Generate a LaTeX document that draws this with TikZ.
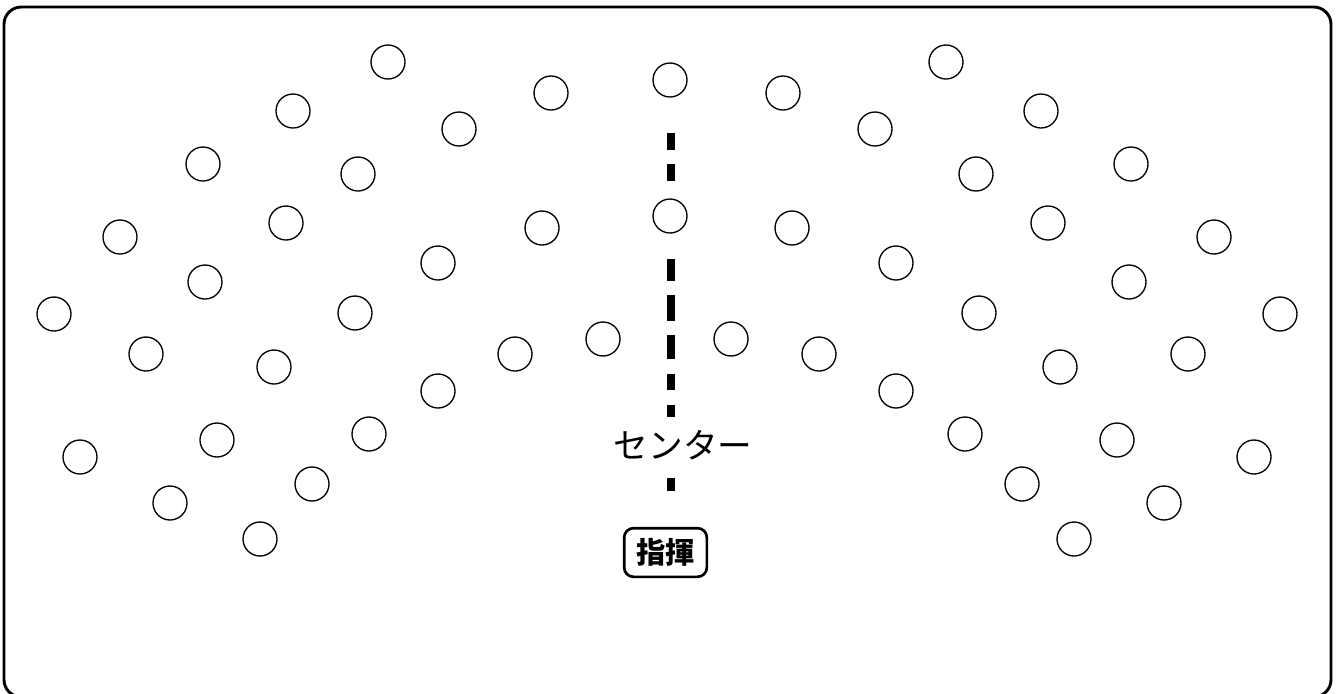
\documentclass[tikz,border=0pt]{standalone}
\usepackage{fontspec}
\newfontfamily\jpfont{Noto Sans CJK JP}

\begin{document}
\begin{tikzpicture}[x=0.75pt,y=-0.75pt,
  seat/.style={circle,draw,line width=1pt,minimum size=25.5pt,inner sep=0pt},
  centerdash/.style={line width=6pt},
  conductor/.style={draw,line width=2pt,rounded corners=7pt,minimum width=62pt,minimum height=36.5pt,inner sep=0pt,font=\jpfont\bfseries\fontsize{22pt}{22pt}\selectfont}]
  \useasboundingbox (0,0) rectangle (1338,693);
  \clip (0,0) rectangle (1338,693);
  \fill[white] (0,0) rectangle (1338,693);
  \draw[line width=2.2pt,rounded corners=13pt] (4,7) rectangle (1331,697);
  \foreach \a/\b in {133/150,164/181,259/281,295/321,335/359,374/390,405/417,478/491}
    \draw[centerdash] (671,\a) -- (671,\b);
  \node[seat,fill=white] (c1) at (670,80) {};
  \node[seat,fill=white] (c2) at (670,216) {};
  \foreach \x/\y [count=\i] in {388/62,293/111,551/93,459/129,203/164,358/174,
      120/237,286/223,542/228,438/263,205/282,54/314,355/313,146/354,274/367,
      515/354,603/339,438/391,80/457,217/440,369/434,170/503,312/484,260/539}
  {
    \node[seat] (l\i) at (\x,\y) {};
    \node[seat] (r\i) at ({1334-\x},\y) {};
  }
  \node[font=\jpfont\fontsize{26pt}{26pt}\selectfont,fill=white,inner sep=1pt] (centre) at (683,445) {センター};
  \node[conductor] (conductor) at (665.5,552.5) {指揮};
\end{tikzpicture}
\end{document}
